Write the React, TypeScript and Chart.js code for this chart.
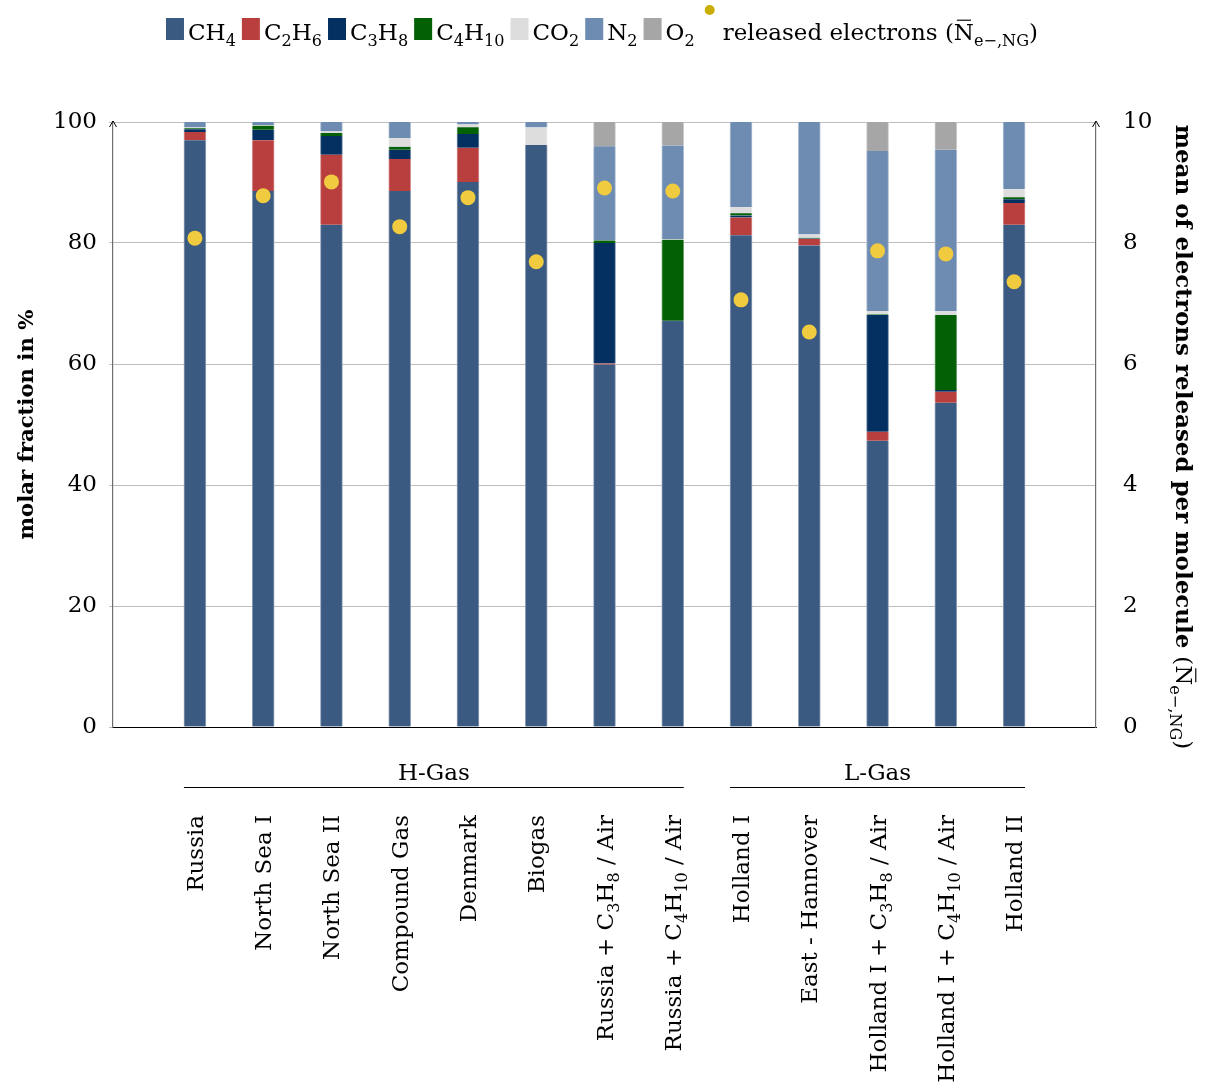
import { useEffect, useRef } from "react";
import { Chart, registerables } from "chart.js";

Chart.register(...registerables);

// ---------- data ----------
const categories = [
  "Russia",
  "North Sea I",
  "North Sea II",
  "Compound Gas",
  "Denmark",
  "Biogas",
  "Russia + C_3H_8 / Air",
  "Russia + C_4H_{10} / Air",
  "Holland I",
  "East - Hannover",
  "Holland I + C_3H_8 / Air",
  "Holland I + C_4H_{10} / Air",
  "Holland II",
];

const groupLabels = ["H-Gas", "L-Gas"];
const groupStart = [0, 8];
const groupEnd = [7, 12];

const ch4 = [97.0, 88.6, 83.0, 88.6, 90.1, 96.2, 59.9, 67.0, 81.3, 79.6, 47.3, 53.6, 83.0];
const c2h6 = [1.35, 8.4, 11.6, 5.3, 5.65, 0, 0.2, 0, 2.9, 1.05, 1.5, 1.8, 3.6];
const c3h8 = [0.45, 1.7, 3.1, 1.5, 2.25, 0, 19.9, 0.15, 0.35, 0.1, 19.3, 0.3, 0.65];
const c4h10 = [0.15, 0.7, 0.5, 0.5, 1.15, 0, 0.4, 13.4, 0.35, 0.1, 0.1, 12.4, 0.33];
const co2 = [0.15, 0.1, 0.25, 1.4, 0.45, 2.9, 0, 0.05, 1.0, 0.55, 0.55, 0.6, 1.3];
const n2 = [0.9, 0.5, 1.55, 2.7, 0.4, 0.9, 15.6, 15.5, 14.1, 18.6, 26.45, 26.7, 11.12];
const o2 = [0, 0, 0, 0, 0, 0, 4.0, 3.9, 0, 0, 4.8, 4.6, 0];

const electrons = [8.08, 8.78, 9.01, 8.27, 8.75, 7.69, 8.91, 8.86, 7.06, 6.53, 7.87, 7.82, 7.36];

const seriesNames = ["CH_4", "C_2H_6", "C_3H_8", "C_4H_{10}", "CO_2", "N_2", "O_2"];
const seriesValues = [ch4, c2h6, c3h8, c4h10, co2, n2, o2];
const seriesColors = ["#3b5a82", "#b93f3f", "#033061", "#046004", "#dddddd", "#6e8cb2", "#a6a6a6"];
const electronLabel = "released electrons (^N_{e−,NG})";
const leftTitle = "molar fraction in %";
const rightTitle = "mean of electrons released per molecule ";

const leftMax = 100;
const leftStep = 20;
const rightMax = 10;
const rightStep = 2;

// ---------- helpers ----------
const FAM = '"DejaVu Serif", "Liberation Serif", serif';
const BASE = 23;

type Seg = { t: string; sub?: boolean; bar?: boolean; bold?: boolean };

function parseRich(s: string, bold = false): Seg[] {
  const out: Seg[] = [];
  let buf = "";
  let i = 0;
  const flush = () => {
    if (buf) out.push({ t: buf, bold });
    buf = "";
  };
  while (i < s.length) {
    const c = s[i];
    if (c === "_") {
      flush();
      if (s[i + 1] === "{") {
        const j = s.indexOf("}", i);
        out.push({ t: s.slice(i + 2, j), sub: true, bold });
        i = j + 1;
      } else {
        out.push({ t: s[i + 1], sub: true, bold });
        i += 2;
      }
    } else if (c === "^") {
      flush();
      out.push({ t: s[i + 1], bar: true, bold });
      i += 2;
    } else {
      buf += c;
      i++;
    }
  }
  flush();
  return out;
}

function segFont(s: Seg, size: number) {
  const sz = s.sub ? size * 0.7 : size;
  return `${s.bold ? "bold " : ""}${sz}px ${FAM}`;
}

function richWidth(ctx: CanvasRenderingContext2D, segs: Seg[], size: number) {
  let w = 0;
  for (const s of segs) {
    ctx.font = segFont(s, size);
    w += ctx.measureText(s.t).width;
  }
  return w;
}

function drawRich(
  ctx: CanvasRenderingContext2D,
  segs: Seg[],
  x: number,
  y: number,
  size: number,
  align: "left" | "center" | "right"
) {
  const w = richWidth(ctx, segs, size);
  let cx = align === "left" ? x : align === "center" ? x - w / 2 : x - w;
  ctx.textAlign = "left";
  ctx.textBaseline = "alphabetic";
  for (const s of segs) {
    ctx.font = segFont(s, size);
    const dy = s.sub ? size * 0.28 : 0;
    ctx.fillText(s.t, cx, y + dy);
    const sw = ctx.measureText(s.t).width;
    if (s.bar) {
      const top = y - size * 0.86;
      ctx.save();
      ctx.lineWidth = Math.max(1, size * 0.05);
      ctx.strokeStyle = "#000";
      ctx.beginPath();
      ctx.moveTo(cx + sw * 0.15, top);
      ctx.lineTo(cx + sw * 0.85, top);
      ctx.stroke();
      ctx.restore();
    }
    cx += sw;
  }
  return w;
}

function lighten(hex: string, amt = 0.45) {
  const n = parseInt(hex.slice(1), 16);
  const r = (n >> 16) & 255, g = (n >> 8) & 255, b = n & 255;
  const m = (v: number) => Math.round(v + (255 - v) * amt);
  return `rgb(${m(r)},${m(g)},${m(b)})`;
}

// ---------- overlay plugin ----------
const overlay = {
  id: "overlay",
  afterDraw(chart: any) {
    const ctx: CanvasRenderingContext2D = chart.ctx;
    const xs = chart.scales.x;
    const ca = chart.chartArea;
    const half = 11;
    ctx.save();
    ctx.fillStyle = "#000";
    ctx.strokeStyle = "#000";

    // axis arrows
    for (const ax of [ca.left, ca.right]) {
      ctx.beginPath();
      ctx.lineWidth = 1;
      ctx.moveTo(ax - 3.5, ca.top + 5);
      ctx.lineTo(ax, ca.top - 1);
      ctx.lineTo(ax + 3.5, ca.top + 5);
      ctx.stroke();
    }

    // category labels
    categories.forEach((c, i) => {
      const px = xs.getPixelForValue(i);
      ctx.save();
      ctx.translate(px + 8, ca.bottom + 88);
      ctx.rotate(-Math.PI / 2);
      drawRich(ctx, parseRich(c), 0, 0, BASE, "right");
      ctx.restore();
    });

    // group labels
    groupLabels.forEach((g, k) => {
      const x0 = xs.getPixelForValue(groupStart[k]) - half;
      const x1 = xs.getPixelForValue(groupEnd[k]) + half;
      ctx.beginPath();
      ctx.lineWidth = 1;
      ctx.moveTo(x0, ca.bottom + 60.5);
      ctx.lineTo(x1, ca.bottom + 60.5);
      ctx.stroke();
      drawRich(ctx, parseRich(g), (x0 + x1) / 2, ca.bottom + 53, BASE, "center");
    });

    // legend
    const sw = 18, sh = 22, gapIn = 4, gapOut = 6;
    const legSegs = seriesNames.map((n) => parseRich(n));
    const elSegs = parseRich(electronLabel);
    let total = 0;
    legSegs.forEach((s) => (total += sw + gapIn + richWidth(ctx, s, BASE) + gapOut));
    total += 22 + richWidth(ctx, elSegs, BASE);
    let lx = 602 - total / 2;
    const base = 40;
    legSegs.forEach((s, k) => {
      ctx.fillStyle = seriesColors[k];
      ctx.fillRect(lx, base - sh, sw, sh);
      ctx.fillStyle = "#000";
      lx += sw + gapIn;
      lx += drawRich(ctx, s, lx, base, BASE, "left") + gapOut;
    });
    ctx.fillStyle = "#c9ad00";
    ctx.beginPath();
    ctx.arc(lx + 9, base - 30, 5, 0, Math.PI * 2);
    ctx.fill();
    ctx.fillStyle = "#000";
    drawRich(ctx, elSegs, lx + 22, base, BASE, "left");

    // left title
    const lt = parseRich(leftTitle, true);
    const lsz = (21 * 230) / richWidth(ctx, lt, 21);
    ctx.save();
    ctx.translate(33, (ca.top + ca.bottom) / 2);
    ctx.rotate(-Math.PI / 2);
    drawRich(ctx, lt, 0, 0, lsz, "center");
    ctx.restore();

    // right title
    const rt = [...parseRich(rightTitle, true), ...parseRich("(^N_{e−,NG})")];
    const rsz = (21 * 625) / richWidth(ctx, rt, 21);
    ctx.save();
    ctx.translate(1176, 437);
    ctx.rotate(Math.PI / 2);
    drawRich(ctx, rt, 0, 0, rsz, "center");
    ctx.restore();

    ctx.restore();
  },
};

export default function App() {
  const ref = useRef<HTMLCanvasElement | null>(null);

  useEffect(() => {
    if (!ref.current) return;
    const datasets: any[] = [
      {
        type: "line",
        label: "electrons",
        data: electrons.map((v, i) => ({ x: i, y: v })),
        yAxisID: "y2",
        showLine: false,
        pointRadius: 7.5,
        pointHoverRadius: 7.5,
        pointBackgroundColor: "#f0cb3f",
        pointBorderWidth: 0,
        borderColor: "#f0cb3f",
        backgroundColor: "#f0cb3f",
        order: -1,
      },
      ...seriesValues.map((vals, k) => ({
        type: "bar",
        label: seriesNames[k],
        data: vals.map((v, i) => ({ x: i, y: v })),
        backgroundColor: seriesColors[k],
        borderColor: lighten(seriesColors[k]),
        borderWidth: { left: 1, right: 1, top: 0, bottom: 0 },
        barThickness: 22,
        yAxisID: "y",
        stack: "s",
      })),
    ];

    const chart = new Chart(ref.current, {
      type: "bar",
      data: { datasets },
      options: {
        responsive: false,
        animation: false,
        devicePixelRatio: 1,
        events: [],
        layout: { padding: { top: 122, left: 0, right: 0, bottom: 0 } },
        plugins: { legend: { display: false }, tooltip: { enabled: false } },
        scales: {
          x: {
            type: "linear",
            min: -1.2,
            max: 13.2,
            offset: false,
            bounds: "ticks",
            stacked: true,
            ticks: { display: false },
            grid: { display: false, offset: false },
            border: { color: "#000", width: 1 },
            afterFit: (s: any) => {
              s.height = 357;
            },
          },
          y: {
            position: "left",
            min: 0,
            max: leftMax,
            stacked: true,
            ticks: { stepSize: leftStep, color: "#000", font: { family: FAM, size: BASE }, padding: 12 },
            grid: { color: "#bdbdbd", lineWidth: 1, tickLength: 4 },
            border: { color: "#6e6e6e", width: 1.2 },
            afterFit: (s: any) => {
              s.width = 113;
            },
          },
          y2: {
            position: "right",
            min: 0,
            max: rightMax,
            ticks: { stepSize: rightStep, color: "#000", font: { family: FAM, size: BASE }, padding: 19 },
            grid: { display: false },
            border: { display: true, color: "#6e6e6e", width: 1.2 },
            afterFit: (s: any) => {
              s.width = 113;
            },
          },
        },
      } as any,
      plugins: [overlay],
    });
    return () => chart.destroy();
  }, []);

  return (
    <div style={{ position: "fixed", left: 0, top: 0, width: 1209, height: 1084, background: "#fff" }}>
      <canvas ref={ref} width={1209} height={1084} style={{ display: "block" }} />
    </div>
  );
}
